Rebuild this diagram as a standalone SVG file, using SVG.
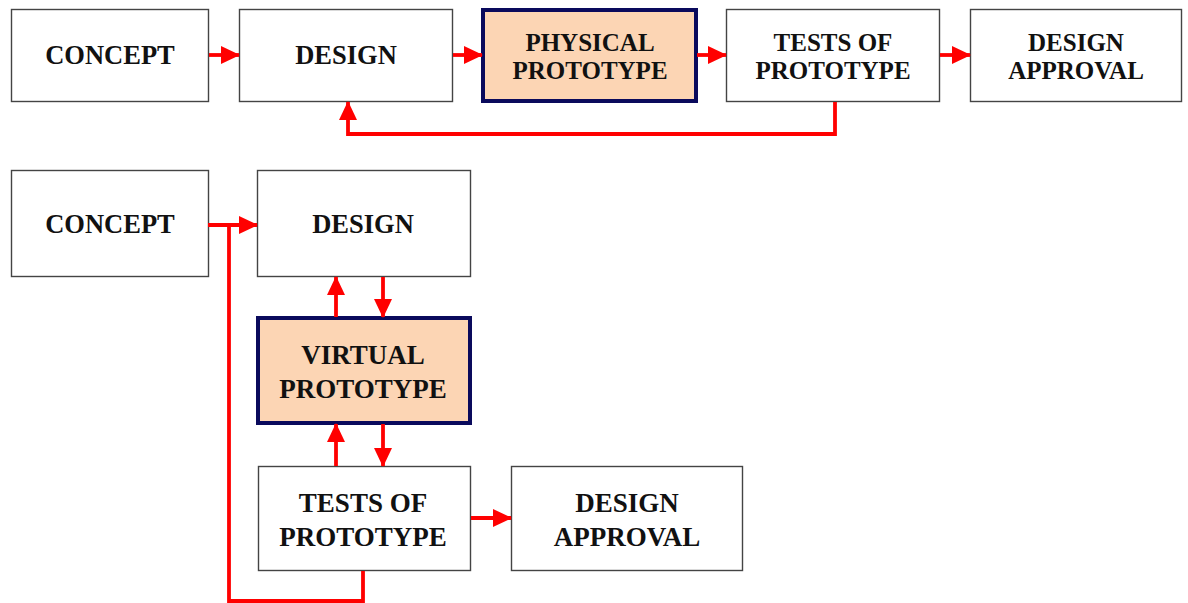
<svg xmlns="http://www.w3.org/2000/svg" width="1188" height="603" viewBox="0 0 1188 603">
  <defs>
    <marker id="arrow" markerUnits="userSpaceOnUse" markerWidth="19" markerHeight="18" viewBox="0 0 19 18" refX="18" refY="9" orient="auto">
      <path d="M0,0 L19,9 L0,18 Z" fill="#ff0000"/>
    </marker>
    <style>
      .box { fill: #ffffff; stroke: #444444; stroke-width: 1.4; }
      .proto { fill: #fcd5b4; stroke: #0a0a5c; stroke-width: 4; }
      .lbl { font-family: "Liberation Serif", "Times New Roman", serif; font-weight: bold; fill: #111111; text-anchor: middle; }
      .one { font-size: 26.5px; }
      .two { font-size: 25px; }
      .two-lg { font-size: 27px; }
      .link { fill: none; stroke: #ff0000; stroke-width: 3.8; }
    </style>
  </defs>

  <rect width="1188" height="603" fill="#ffffff"/>

  <!-- Upper flow: sequential development with a physical prototype -->
  <g id="top-concept">
    <rect class="box" x="11.5" y="9.5" width="197" height="92"/>
    <text class="lbl one" x="110" y="64">CONCEPT</text>
  </g>
  <g id="top-design">
    <rect class="box" x="239.5" y="9.5" width="213" height="92"/>
    <text class="lbl one" x="346" y="64">DESIGN</text>
  </g>
  <g id="top-physical-prototype">
    <rect class="proto" x="483" y="10" width="213" height="91"/>
    <text class="lbl two" x="590" y="51">PHYSICAL</text>
    <text class="lbl two" x="590" y="79">PROTOTYPE</text>
  </g>
  <g id="top-tests">
    <rect class="box" x="726.5" y="9.5" width="213" height="92"/>
    <text class="lbl two" x="833" y="51">TESTS OF</text>
    <text class="lbl two" x="833" y="79">PROTOTYPE</text>
  </g>
  <g id="top-approval">
    <rect class="box" x="970.5" y="9.5" width="211" height="92"/>
    <text class="lbl two" x="1076" y="51">DESIGN</text>
    <text class="lbl two" x="1076" y="79">APPROVAL</text>
  </g>

  <!-- Lower flow: virtual prototype loop -->
  <g id="bottom-concept">
    <rect class="box" x="11.5" y="170.5" width="197" height="106"/>
    <text class="lbl one" x="110" y="233">CONCEPT</text>
  </g>
  <g id="bottom-design">
    <rect class="box" x="257.5" y="170.5" width="213" height="106"/>
    <text class="lbl one" x="363" y="233">DESIGN</text>
  </g>
  <g id="bottom-virtual-prototype">
    <rect class="proto" x="258" y="318" width="212" height="105"/>
    <text class="lbl two-lg" x="363" y="364">VIRTUAL</text>
    <text class="lbl two-lg" x="363" y="398">PROTOTYPE</text>
  </g>
  <g id="bottom-tests">
    <rect class="box" x="258.5" y="466.5" width="212" height="104"/>
    <text class="lbl two-lg" x="363" y="512">TESTS OF</text>
    <text class="lbl two-lg" x="363" y="546">PROTOTYPE</text>
  </g>
  <g id="bottom-approval">
    <rect class="box" x="511.5" y="466.5" width="231" height="104"/>
    <text class="lbl two-lg" x="627" y="512">DESIGN</text>
    <text class="lbl two-lg" x="627" y="546">APPROVAL</text>
  </g>

  <g id="connectors">
    <!-- upper flow -->
    <path class="link" d="M209,55 H239" marker-end="url(#arrow)"/>
    <path class="link" d="M453,55 H482" marker-end="url(#arrow)"/>
    <path class="link" d="M697,55 H726" marker-end="url(#arrow)"/>
    <path class="link" d="M940,55 H970" marker-end="url(#arrow)"/>
    <path class="link" d="M835,102 V134 H348 V102" marker-end="url(#arrow)"/>

    <!-- lower flow -->
    <path class="link" d="M208,225 H257" marker-end="url(#arrow)"/>
    <path class="link" d="M336,317 V277" marker-end="url(#arrow)"/>
    <path class="link" d="M383,277 V317" marker-end="url(#arrow)"/>
    <path class="link" d="M336,466 V424" marker-end="url(#arrow)"/>
    <path class="link" d="M383,424 V466" marker-end="url(#arrow)"/>
    <path class="link" d="M471,518 H511" marker-end="url(#arrow)"/>
    <path class="link" d="M363,571 V601 H229 V225"/>
  </g>
</svg>
